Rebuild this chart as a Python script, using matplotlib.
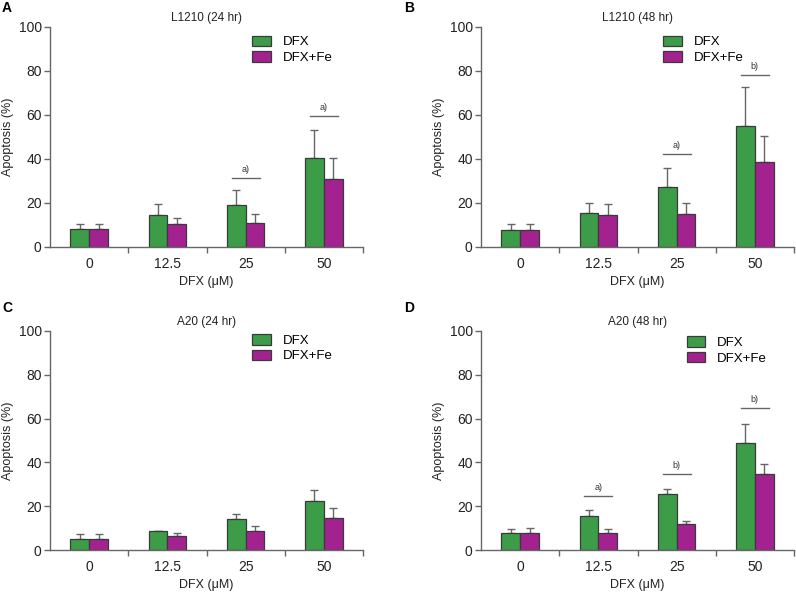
import numpy as np
import matplotlib.pyplot as plt

plt.rcParams['font.family'] = ['Liberation Sans', 'DejaVu Sans']

doses = ['0', '12.5', '25', '50']
titles = ['L1210 (24 hr)', 'L1210 (48 hr)', 'A20 (24 hr)', 'A20 (48 hr)']
letters = ['A', 'B', 'C', 'D']

# mean values (%), error = upper SD
dfx_a = [8.0, 14.7, 19.0, 40.3]
dfx_a_err = [2.4, 4.7, 6.7, 12.9]
fe_a = [8.0, 10.4, 11.0, 30.7]
fe_a_err = [2.4, 3.0, 4.1, 9.8]
sig_a = [None, None, 'a)', 'a)']
sig_a_y = [None, None, 31.5, 59.5]

dfx_b = [7.9, 15.6, 27.1, 54.9]
dfx_b_err = [2.7, 4.4, 8.9, 17.7]
fe_b = [7.9, 14.6, 14.8, 38.7]
fe_b_err = [2.7, 5.1, 5.4, 11.9]
sig_b = [None, None, 'a)', 'b)']
sig_b_y = [None, None, 42.1, 78.3]

dfx_c = [4.9, 8.5, 14.0, 22.5]
dfx_c_err = [2.3, 0.3, 2.4, 4.9]
fe_c = [4.9, 6.4, 8.7, 14.6]
fe_c_err = [2.3, 1.2, 2.4, 4.6]
sig_c = [None, None, None, None]
sig_c_y = [None, None, None, None]

dfx_d = [7.6, 15.3, 25.4, 48.9]
dfx_d_err = [2.1, 2.8, 2.3, 8.5]
fe_d = [7.6, 7.6, 11.7, 34.8]
fe_d_err = [2.4, 2.0, 1.7, 4.5]
sig_d = [None, 'a)', 'b)', 'b)']
sig_d_y = [None, 24.5, 34.6, 64.7]

panels = [
    (dfx_a, dfx_a_err, fe_a, fe_a_err, sig_a, sig_a_y),
    (dfx_b, dfx_b_err, fe_b, fe_b_err, sig_b, sig_b_y),
    (dfx_c, dfx_c_err, fe_c, fe_c_err, sig_c, sig_c_y),
    (dfx_d, dfx_d_err, fe_d, fe_d_err, sig_d, sig_d_y),
]

green = '#3d9c48'
magenta = '#a3228f'
edge = '#3a3a3a'
grey = '#666666'
txt = '#222222'

W, H = 796, 593
fig = plt.figure(figsize=(W / 100, H / 100), dpi=100)

# axes boxes in pixels: left, top(y=100), bottom(y=0)
boxes = [(50, 27, 247), (481, 27, 247), (50, 331, 550), (481, 331, 550)]
legend_pos = [(0.63, 0.985), (0.565, 0.985), (0.63, 1.01), (0.64, 1.0)]
letter_pos = [(2, 1), (404, 1), (2, 301), (404, 301)]

x = np.arange(len(doses))
bw = 0.24

for i, (dfx, dfx_err, fe, fe_err, sig, sig_y) in enumerate(panels):
    left, top, bottom = boxes[i]
    ax = fig.add_axes([left / W, (H - bottom) / H, 313 / W, (bottom - top) / H])

    ax.bar(x - bw / 2, dfx, bw, color=green, edgecolor=edge, linewidth=0.9, label='DFX', zorder=2)
    ax.bar(x + bw / 2, fe, bw, color=magenta, edgecolor=edge, linewidth=0.9, label='DFX+Fe', zorder=2)
    ax.errorbar(x - bw / 2, dfx, yerr=[np.zeros(4), dfx_err], fmt='none', ecolor=grey,
                elinewidth=1, capsize=2.6, capthick=1, zorder=1)
    ax.errorbar(x + bw / 2, fe, yerr=[np.zeros(4), fe_err], fmt='none', ecolor=grey,
                elinewidth=1, capsize=2.6, capthick=1, zorder=1)

    for j, s in enumerate(sig):
        if s is None:
            continue
        ax.plot([x[j] - 0.18, x[j] + 0.18], [sig_y[j], sig_y[j]], color=grey, lw=1)
        ax.annotate(s, (x[j], sig_y[j]), xytext=(0, 3), textcoords='offset points',
                    ha='center', va='bottom', fontsize=6.5, color='#333333')

    ax.set_xlim(-0.5, 3.5)
    ax.set_ylim(0, 100)
    ax.set_yticks([0, 20, 40, 60, 80, 100])
    ax.set_xticks(x)
    ax.set_xticklabels(doses)
    ax.set_xticks(x + 0.5, minor=True)
    ax.tick_params(axis='x', which='major', length=0, pad=7, labelsize=10, colors=txt)
    ax.tick_params(axis='x', which='minor', length=4, color=grey, width=1)
    ax.tick_params(axis='y', length=4, color=grey, width=1, labelsize=10, pad=2, labelcolor=txt)
    for sp in ['top', 'right']:
        ax.spines[sp].set_visible(False)
    for sp in ['left', 'bottom']:
        ax.spines[sp].set_color(grey)
        ax.spines[sp].set_linewidth(1)

    ax.set_title(titles[i], fontsize=8.5, pad=4, color=txt)
    ax.set_ylabel('Apoptosis (%)', fontsize=9, labelpad=3, color=txt)
    ax.set_xlabel('DFX (\u03bcM)', fontsize=9, labelpad=4, color=txt)

    ax.legend(loc='upper left', bbox_to_anchor=legend_pos[i], frameon=False, fontsize=9.5,
              handlelength=1.4, handleheight=0.85, labelspacing=0.2, handletextpad=0.9,
              borderaxespad=0)

    lx, ly = letter_pos[i]
    fig.text(lx / W, 1 - ly / H, letters[i], fontsize=10, fontweight='bold', va='top', ha='left')

fig.savefig('out.png', dpi=100)
